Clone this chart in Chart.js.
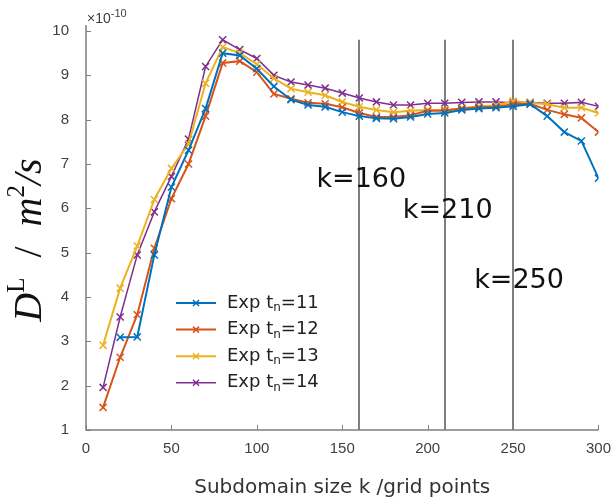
<!DOCTYPE html>
<html>
<head>
<meta charset="utf-8">
<script src="https://cdn.jsdelivr.net/npm/chart.js@4/dist/chart.umd.min.js"></script>
<style>
  html, body { margin: 0; padding: 0; background: #fff; }
  #wrap { width: 613px; height: 503px; }
</style>
</head>
<body>
<div id="wrap"><canvas id="diffChart"></canvas></div>
<script>
// subdomain sizes (grid points)
const kValues = [10, 20, 30, 40, 50, 60, 70, 80, 90, 100, 110, 120, 130, 140, 150,
                 160, 170, 180, 190, 200, 210, 220, 230, 240, 250, 260, 270, 280, 290, 300];

// D^L in units of 1e-10 m^2/s (t_n=11 has no run at k=10)
const exp11 = [null, 3.09, 3.10, 4.95, 6.48, 7.31, 8.25, 9.50, 9.45, 9.15, 8.75, 8.45, 8.33, 8.29, 8.17,
               8.08, 8.03, 8.02, 8.06, 8.13, 8.15, 8.22, 8.25, 8.27, 8.30, 8.35, 8.08, 7.72, 7.52, 6.68];
const exp12 = [1.51, 2.64, 3.60, 5.10, 6.22, 7.00, 8.08, 9.28, 9.32, 9.07, 8.58, 8.47, 8.38, 8.36, 8.28,
               8.15, 8.06, 8.06, 8.10, 8.20, 8.20, 8.25, 8.28, 8.29, 8.35, 8.36, 8.22, 8.12, 8.04, 7.72];
const exp13 = [2.91, 4.20, 5.15, 6.20, 6.90, 7.45, 8.82, 9.64, 9.50, 9.25, 8.93, 8.70, 8.62, 8.55, 8.40,
               8.29, 8.22, 8.17, 8.20, 8.22, 8.22, 8.26, 8.30, 8.32, 8.42, 8.38, 8.35, 8.27, 8.27, 8.15];
const exp14 = [1.96, 3.55, 4.95, 5.92, 6.72, 7.56, 9.20, 9.80, 9.58, 9.38, 9.00, 8.85, 8.78, 8.71, 8.60,
               8.49, 8.40, 8.33, 8.33, 8.37, 8.37, 8.39, 8.40, 8.40, 8.38, 8.39, 8.37, 8.37, 8.39, 8.30];

const seriesNames = ['11', '12', '13', '14'];
const seriesColors = ['#0072BD', '#D95319', '#EDB120', '#7E2F8E'];
const seriesWidths = [2, 2, 2, 1.5];

// reference lines and their labels: [k, y]
const kMarks = [160, 210, 250];
const kLabels = [[160, 6.48], [210, 5.78], [250, 4.20]];

const xTicks = [0, 50, 100, 150, 200, 250, 300];
const yTicks = [1, 2, 3, 4, 5, 6, 7, 8, 9, 10];

const axisGray = '#7f7f7f';
const textGray = '#404040';

function makeSet(vals, i) {
    return {
        label: 'Exp t_n=' + seriesNames[i],
        data: vals.map((v, j) => ({ x: kValues[j], y: v })),
        borderColor: seriesColors[i],
        backgroundColor: seriesColors[i],
        borderWidth: seriesWidths[i],
        pointStyle: 'crossRot',
        pointRadius: 5,
        pointBorderWidth: 1.5,
        tension: 0
    };
}

const extras = {
    id: 'extras',
    beforeDatasetsDraw(chart) {
        const { ctx, scales: { x, y } } = chart;
        ctx.save();
        ctx.strokeStyle = axisGray;
        ctx.lineWidth = 2;
        kMarks.forEach(k => {
            const px = Math.round(x.getPixelForValue(k));
            ctx.beginPath();
            ctx.moveTo(px, y.getPixelForValue(1));
            ctx.lineTo(px, y.getPixelForValue(9.8));
            ctx.stroke();
        });
        ctx.restore();
    },
    afterDatasetsDraw(chart) {
        const { ctx, scales: { x, y }, chartArea: a } = chart;
        ctx.save();

        // axes with inward ticks
        ctx.strokeStyle = axisGray;
        ctx.lineWidth = 1.5;
        ctx.beginPath();
        ctx.moveTo(a.left, a.top - 6);
        ctx.lineTo(a.left, a.bottom);
        ctx.lineTo(a.right, a.bottom);
        ctx.stroke();
        ctx.lineWidth = 1;
        ctx.beginPath();
        yTicks.forEach(v => {
            const py = Math.round(y.getPixelForValue(v)) + 0.5;
            ctx.moveTo(a.left, py);
            ctx.lineTo(a.left + 5, py);
        });
        xTicks.forEach(v => {
            const px = Math.round(x.getPixelForValue(v)) + 0.5;
            ctx.moveTo(px, a.bottom);
            ctx.lineTo(px, a.bottom - 5);
        });
        ctx.stroke();

        // exponent marker
        ctx.fillStyle = textGray;
        ctx.textBaseline = 'alphabetic';
        ctx.textAlign = 'left';
        ctx.font = '14px "Liberation Sans"';
        ctx.fillText('\u00d710', a.left + 1, a.top - 8);
        let w = ctx.measureText('\u00d710').width;
        ctx.font = '11px "Liberation Sans"';
        ctx.fillText('-10', a.left + 1 + w, a.top - 14);

        // k labels
        ctx.fillStyle = '#111';
        ctx.font = '27px "DejaVu Sans"';
        ctx.textAlign = 'center';
        kLabels.forEach(([k, v], i) => {
            ctx.fillText('k=' + k, x.getPixelForValue(k) + [2, 3, 6][i], y.getPixelForValue(v));
        });

        // legend
        ctx.textAlign = 'left';
        ctx.textBaseline = 'middle';
        const lx = 176, ly = 303, step = 26.6;
        seriesNames.forEach((n, i) => {
            const yy = ly + i * step;
            ctx.strokeStyle = seriesColors[i];
            ctx.lineWidth = seriesWidths[i];
            ctx.beginPath();
            ctx.moveTo(lx, yy);
            ctx.lineTo(lx + 40, yy);
            ctx.stroke();
            ctx.lineWidth = 1.5;
            ctx.beginPath();
            ctx.moveTo(lx + 17, yy - 3); ctx.lineTo(lx + 23, yy + 3);
            ctx.moveTo(lx + 17, yy + 3); ctx.lineTo(lx + 23, yy - 3);
            ctx.stroke();
            ctx.fillStyle = '#222';
            let tx = lx + 51;
            ctx.font = '18px "DejaVu Sans"';
            ctx.fillText('Exp t', tx, yy);
            tx += ctx.measureText('Exp t').width;
            ctx.font = '12px "DejaVu Sans"';
            ctx.fillText('n', tx, yy + 5);
            tx += ctx.measureText('n').width;
            ctx.font = '18px "DejaVu Sans"';
            ctx.fillText('=' + n, tx, yy);
        });

        // y-axis title: D^L / m^2/s
        ctx.translate(41, 240);
        ctx.rotate(-Math.PI / 2);
        ctx.fillStyle = '#111';
        ctx.textBaseline = 'alphabetic';
        const parts = [
            ['italic 40px "Liberation Serif"', 'D', 0],
            ['25px "Liberation Serif"', 'L', -17],
            ['40px "Liberation Serif"', '  /  ', 0],
            ['italic 40px "Liberation Serif"', 'm', 0],
            ['25px "Liberation Serif"', '2', -17],
            ['italic 40px "Liberation Serif"', '/s', 0]
        ];
        let total = 0;
        parts.forEach(p => { ctx.font = p[0]; total += ctx.measureText(p[1]).width; });
        let px = -total / 2;
        parts.forEach(p => {
            ctx.font = p[0];
            ctx.fillText(p[1], px, p[2]);
            px += ctx.measureText(p[1]).width;
        });
        ctx.restore();
    }
};

new Chart(document.getElementById('diffChart'), {
    type: 'line',
    data: {
        datasets: [makeSet(exp11, 0), makeSet(exp12, 1), makeSet(exp13, 2), makeSet(exp14, 3)]
    },
    options: {
        responsive: true,
        maintainAspectRatio: false,
        animation: false,
        layout: { padding: { top: 31, right: 13, left: 0, bottom: 0 } },
        plugins: {
            legend: { display: false },
            tooltip: { enabled: false }
        },
        scales: {
            x: {
                type: 'linear',
                min: 0,
                max: 300,
                afterBuildTicks: s => { s.ticks = xTicks.map(v => ({ value: v })); },
                afterFit: s => { s.height = 73; },
                grid: { display: false },
                border: { display: false },
                ticks: {
                    color: textGray,
                    font: { family: '"Liberation Sans"', size: 15 },
                    padding: 2,
                    maxRotation: 0
                },
                title: {
                    display: true,
                    text: 'Subdomain size k /grid points',
                    color: '#333',
                    font: { family: '"DejaVu Sans"', size: 20 },
                    padding: { top: 0, bottom: 3 }
                }
            },
            y: {
                min: 1,
                max: 10,
                afterBuildTicks: s => { s.ticks = yTicks.map(v => ({ value: v })); },
                afterFit: s => { s.width = 86; },
                grid: { display: false },
                border: { display: false },
                ticks: {
                    color: textGray,
                    font: { family: '"Liberation Sans"', size: 15 },
                    padding: 9
                }
            }
        }
    },
    plugins: [extras]
});
</script>
</body>
</html>
